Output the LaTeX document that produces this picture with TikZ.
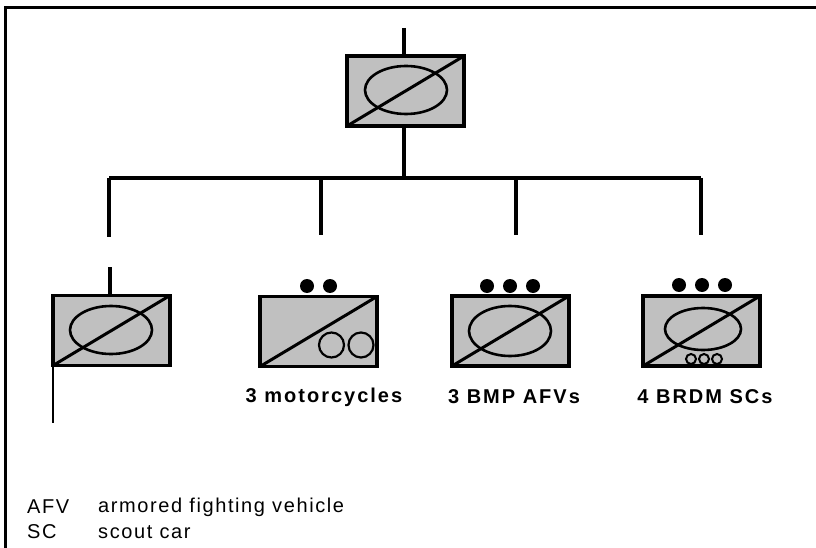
\documentclass[tikz,border=0pt]{standalone}
\usepackage{fontspec}
\setmainfont{Liberation Sans}
\newfontfamily\lblfont[LetterSpace=10]{Liberation Sans}
\newfontfamily\legfont[LetterSpace=8]{Liberation Sans}
\begin{document}
\begin{tikzpicture}[x=1pt,y=-1pt,
  unit/.style={draw=black,line width=3.3pt,fill={rgb,255:red,192;green,192;blue,192},minimum width=117pt,minimum height=70pt,inner sep=0pt,outer sep=0pt},
  conn/.style={line width=4.2pt},
  diag/.style={line width=3pt},
  oval/.style={line width=2.6pt},
  dot/.style={fill=black,circle,inner sep=0pt,minimum size=14pt},
  lbl/.style={font=\lblfont\bfseries\fontsize{20}{24}\selectfont},
  leg/.style={font=\legfont\fontsize{20}{24}\selectfont,anchor=west,inner sep=0pt}]
\useasboundingbox (0,0) rectangle (816,548);
\draw[line width=3pt] (5,548) -- (5,8) -- (816,8);

% nodes
\node[unit] (top) at (405.5,91) {};
\node[unit] (left) at (111.5,330.5) {};
\node[unit] (moto) at (318.5,331.5) {};
\node[unit] (bmp) at (510.5,331) {};
\node[unit] (brdm) at (701.5,331) {};

% diagonals
\foreach \n in {top,left,moto,bmp,brdm}
  \draw[diag] (\n.south west) -- (\n.north east);

% ovals
\draw[oval] (406,90) ellipse [x radius=41pt,y radius=24pt];
\draw[oval] (111,330) ellipse [x radius=41pt,y radius=24pt];
\draw[oval] (510,331) ellipse [x radius=41pt,y radius=25pt];
\draw[oval] (703,329) ellipse [x radius=38pt,y radius=21pt];

% wheels
\draw[oval,line width=2.2pt] (331.5,345) circle [radius=12.5pt];
\draw[oval,line width=2.2pt] (361,345) circle [radius=12.5pt];
\foreach \xx in {691,704,717}
  \draw[line width=2pt] (\xx,359) circle [radius=5pt];

% echelon dots
\node[dot] (m1) at (307,286) {};
\node[dot] (m2) at (330,286) {};
\node[dot] (b1) at (487,286) {};
\node[dot] (b2) at (510,286) {};
\node[dot] (b3) at (533,286) {};
\node[dot] (r1) at (679,285) {};
\node[dot] (r2) at (702,285) {};
\node[dot] (r3) at (725,285) {};

% connectors
\coordinate (topin) at (404,28);
\coordinate (busC) at (404,178);
\coordinate (busL) at (109,178);
\coordinate (busR) at (701,178);
\coordinate (d1) at (109,237);
\coordinate (d2a) at (321,178);
\coordinate (d2) at (321,235);
\coordinate (d3a) at (516,178);
\coordinate (d3) at (516,235);
\coordinate (d4) at (701,235);
\coordinate (lin) at (110,267);
\coordinate (flag) at (53,423);

\draw[conn] (topin) -- (top.north -| topin);
\draw[conn] (top.south -| busC) -- (busC);
\draw[conn] (busL) -- (busR);
\draw[conn] (busL) -- (d1);
\draw[conn] (d2a) -- (d2);
\draw[conn] (d3a) -- (d3);
\draw[conn] (busR) -- (d4);
\draw[conn] (lin) -- (left.north -| lin);
\draw[line width=2.8pt] (left.south west) ++(0,-5) -- (flag);

% labels
\node[lbl] (lm) at (324,397) {3 motorcycles};
\node[lbl] (lb) at (514,397) {3 BMP AFVs};
\node[lbl] (lr) at (705,397) {4 BRDM SCs};

% legend
\node[leg] (k1) at (27,507) {AFV};
\node[leg] (v1) at (98,507) {armored fighting vehicle};
\node[leg] (k2) at (27,532) {SC};
\node[leg] (v2) at (98,532) {scout car};
\end{tikzpicture}
\end{document}
